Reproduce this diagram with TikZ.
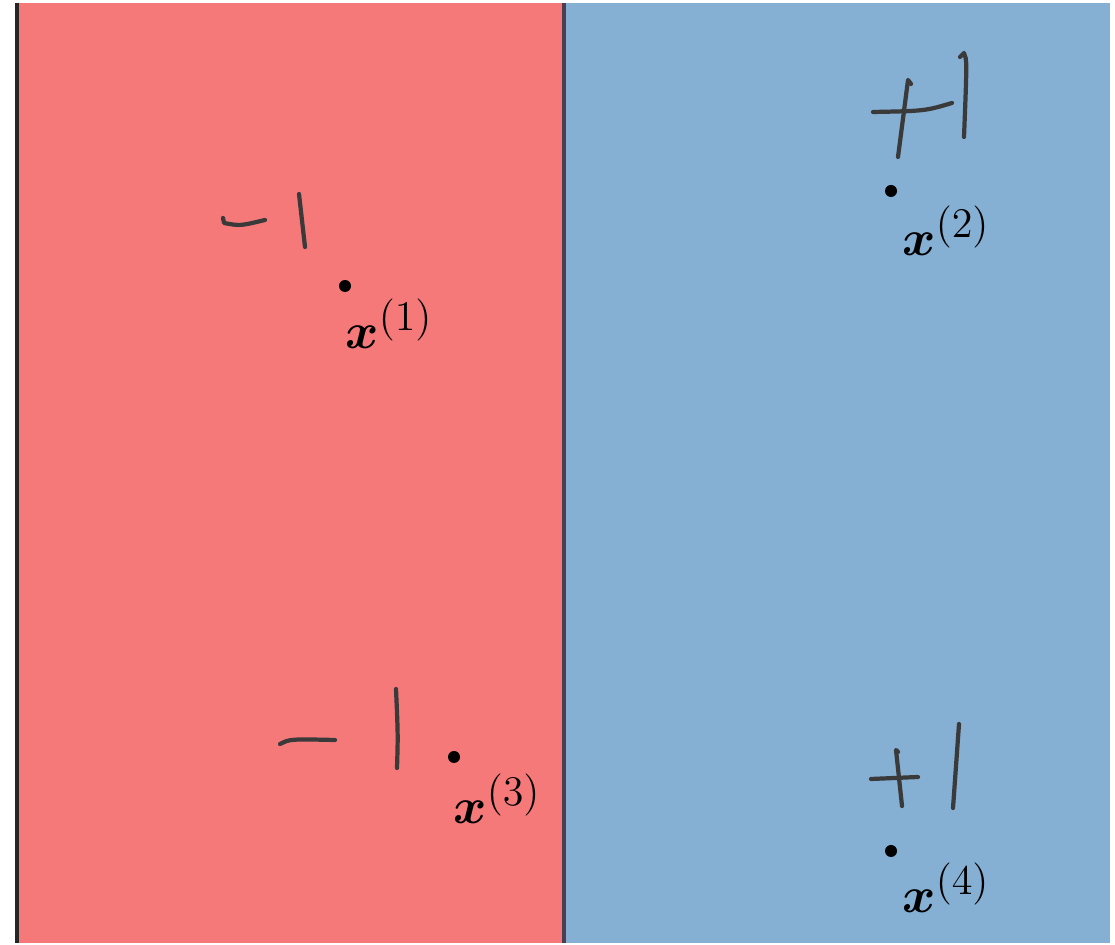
\documentclass[tikz,border=0pt]{standalone}
\usepackage{bm}
\DeclareMathSizes{14.4}{14.4}{11.5}{8}
\usetikzlibrary{positioning}
\definecolor{negred}{RGB}{246,121,122}
\definecolor{posblue}{RGB}{133,175,211}
\definecolor{penink}{RGB}{58,58,58}
\definecolor{splitline}{RGB}{75,62,80}

\begin{document}
\begin{tikzpicture}[font=\Large,
 datapt/.style={circle,fill=black,inner sep=0pt,minimum size=0.12cm},
 ptlabel/.style={inner sep=0pt},
 pen/.style={draw=penink,line width=1.2pt,line cap=round,line join=round}]
\useasboundingbox (0,0) rectangle (11.15,9.45);
% the two half planes
\fill[negred] (0.17,0.02) rectangle (5.64,9.42);
\fill[posblue] (5.64,0.02) rectangle (11.10,9.42);
\draw[black!85,line width=1pt] (0.17,0.02) -- (0.17,9.42);
\draw[splitline,line width=1pt] (5.64,0.02) -- (5.64,9.42);
% points
\node[datapt] (p1) at (3.45,6.59) {};
\node[datapt] (p2) at (8.91,7.54) {};
\node[datapt] (p3) at (4.54,1.88) {};
\node[datapt] (p4) at (8.91,0.94) {};
\node[ptlabel,below right=0.07cm and -0.05cm of p1] (l1) {$\bm{x}^{(1)}$};
\node[ptlabel,below right=0.09cm and 0.06cm of p2] (l2) {$\bm{x}^{(2)}$};
\node[ptlabel,below right=0.11cm and -0.06cm of p3] (l3) {$\bm{x}^{(3)}$};
\node[ptlabel,below right=0.06cm and 0.06cm of p4] (l4) {$\bm{x}^{(4)}$};
% handwritten class marks
\draw[pen] (2.23,7.27) -- (2.24,7.22) .. controls (2.40,7.19) .. (2.65,7.25);
\draw[pen] (2.99,7.51) -- (3.05,6.98);
\draw[pen] (8.73,8.33) .. controls (9.25,8.34) .. (9.52,8.42);
\draw[pen] (9.11,8.61) -- (9.08,8.65) -- (8.98,7.88);
\draw[pen] (9.60,8.88) -- (9.64,8.92) .. controls (9.67,8.85) .. (9.64,8.08);
\draw[pen] (2.80,2.01) .. controls (2.90,2.06) .. (3.35,2.05);
\draw[pen] (3.96,2.56) .. controls (3.98,2.10) .. (3.97,1.77);
\draw[pen] (8.71,1.66) -- (9.18,1.68);
\draw[pen] (8.98,1.93) -- (8.96,1.95) -- (9.02,1.39);
\draw[pen] (9.59,2.21) -- (9.53,1.37);
\end{tikzpicture}
\end{document}
